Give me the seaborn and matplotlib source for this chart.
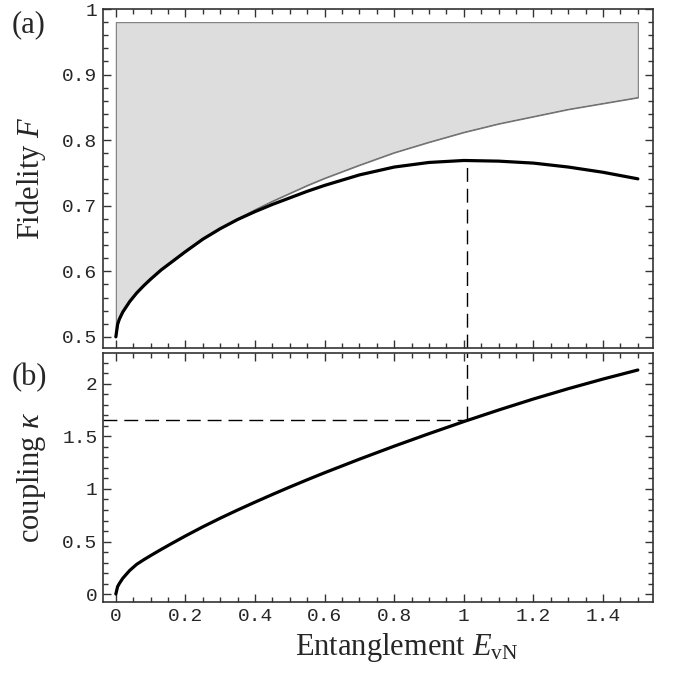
import pandas as pd
import matplotlib
matplotlib.use("Agg")
import matplotlib.pyplot as plt
from matplotlib.ticker import MultipleLocator, FuncFormatter
import seaborn as sns

# entanglement grid
E_vN = [0, 0.005, 0.01, 0.02, 0.04, 0.06, 0.08, 0.1, 0.13, 0.16, 0.2, 0.25, 0.3,
        0.35, 0.4, 0.45, 0.5, 0.55, 0.6, 0.7, 0.8, 0.9, 1.0, 1.1, 1.2, 1.3, 1.4, 1.5]

# (a) optimal fidelity (thick) and upper bound of the grey region (thin)
F_opt = [0.5, 0.519, 0.527, 0.538, 0.554, 0.567, 0.578, 0.588, 0.602, 0.614, 0.630,
         0.649, 0.665, 0.679, 0.691, 0.702, 0.712, 0.722, 0.731, 0.747, 0.759, 0.766,
         0.769, 0.768, 0.765, 0.759, 0.751, 0.741]
F_max = [0.5, 0.519, 0.527, 0.538, 0.554, 0.567, 0.578, 0.588, 0.602, 0.614, 0.630,
         0.649, 0.665, 0.680, 0.694, 0.707, 0.719, 0.731, 0.742, 0.762, 0.781, 0.797,
         0.812, 0.825, 0.836, 0.847, 0.856, 0.865]
F_top = 0.98

# (b) coupling kappa
kappa = [0, 0.07, 0.10, 0.15, 0.225, 0.283, 0.326, 0.366, 0.424, 0.48, 0.553, 0.640,
         0.722, 0.800, 0.875, 0.948, 1.019, 1.088, 1.155, 1.284, 1.408, 1.527, 1.642,
         1.752, 1.857, 1.955, 2.047, 2.133]

# optimum marked by dashed lines
E_star = 1.01
F_star = 0.769
kappa_star = 1.655

df = pd.DataFrame({"E": E_vN, "F_opt": F_opt, "F_max": F_max, "kappa": kappa})

sns.set_style("ticks")
plt.rcParams["font.family"] = ["Liberation Serif", "DejaVu Serif"]
plt.rcParams["mathtext.fontset"] = "custom"
plt.rcParams["mathtext.rm"] = "Liberation Serif"
plt.rcParams["mathtext.it"] = "Liberation Serif:italic"

fig = plt.figure(figsize=(6.73, 6.73), dpi=100)
ax_a = fig.add_axes([0.153, 0.4829, 0.817, 0.5037])
ax_b = fig.add_axes([0.153, 0.1055, 0.817, 0.370])

xlim = (-0.037, 1.543)
ylim_a = (0.483, 1.0)
ylim_b = (-0.076, 2.295)

# grey region above the bound
ax_a.fill_between(df["E"], df["F_max"], F_top, facecolor="#dddddd",
                  edgecolor="#7a7a7a", linewidth=0.8, zorder=1)
sns.lineplot(data=df, x="E", y="F_max", color="#6a6a6a", lw=0.7, ax=ax_a, zorder=2)
sns.lineplot(data=df, x="E", y="F_opt", color="black", lw=2.3, ax=ax_a, zorder=3)
ax_a.vlines(E_star, ylim_a[0], F_star, colors="black", lw=1.0,
            linestyles=(0, (10, 5)), zorder=2)

sns.lineplot(data=df, x="E", y="kappa", color="black", lw=2.3, ax=ax_b, zorder=3)
ax_b.vlines(E_star, kappa_star, ylim_b[1], colors="black", lw=1.0,
            linestyles=(0, (10, 5)), zorder=2)
ax_b.hlines(kappa_star, xlim[0], E_star, colors="black", lw=1.0,
            linestyles=(0, (10, 5)), zorder=2)

fmt = FuncFormatter(lambda v, p: "%g" % round(v, 3))

for ax in (ax_a, ax_b):
    ax.set_xlim(*xlim)
    ax.xaxis.set_major_locator(MultipleLocator(0.2))
    ax.xaxis.set_minor_locator(MultipleLocator(0.05))
    ax.xaxis.set_major_formatter(fmt)
    ax.yaxis.set_major_formatter(fmt)
    ax.tick_params(which="both", direction="in", top=True, right=True,
                   color="#333333", width=1.0)
    ax.tick_params(which="major", length=6, pad=4)
    ax.tick_params(which="minor", length=3.5)
    for s in ax.spines.values():
        s.set_linewidth(1.2)
        s.set_color("#333333")

ax_a.set_ylim(*ylim_a)
ax_a.yaxis.set_major_locator(MultipleLocator(0.1))
ax_a.yaxis.set_minor_locator(MultipleLocator(0.02))
ax_a.set_xticklabels([])
ax_a.set_xlabel("")

ax_b.set_ylim(*ylim_b)
ax_b.yaxis.set_major_locator(MultipleLocator(0.5))
ax_b.yaxis.set_minor_locator(MultipleLocator(0.1))

for ax in (ax_a, ax_b):
    for lab in ax.get_xticklabels() + ax.get_yticklabels():
        lab.set_fontfamily("Liberation Mono")
        lab.set_fontsize(14)

ax_a.set_ylabel("Fidelity $F$", fontsize=22)
ax_a.yaxis.set_label_coords(-0.10, 0.5)
ax_b.set_ylabel(r"coupling $\kappa$", fontsize=22)
ax_b.yaxis.set_label_coords(-0.10, 0.5)
ax_b.set_xlabel(r"Entanglement $E_{\mathrm{vN}}$", fontsize=22)
ax_b.xaxis.set_label_coords(0.553, -0.115)

fig.text(12 / 673, 1 - 25 / 673, "(a)", fontsize=22, ha="left", va="center")
fig.text(12 / 673, 1 - 378 / 673, "(b)", fontsize=22, ha="left", va="center")

fig.savefig("out.png", dpi=100)
